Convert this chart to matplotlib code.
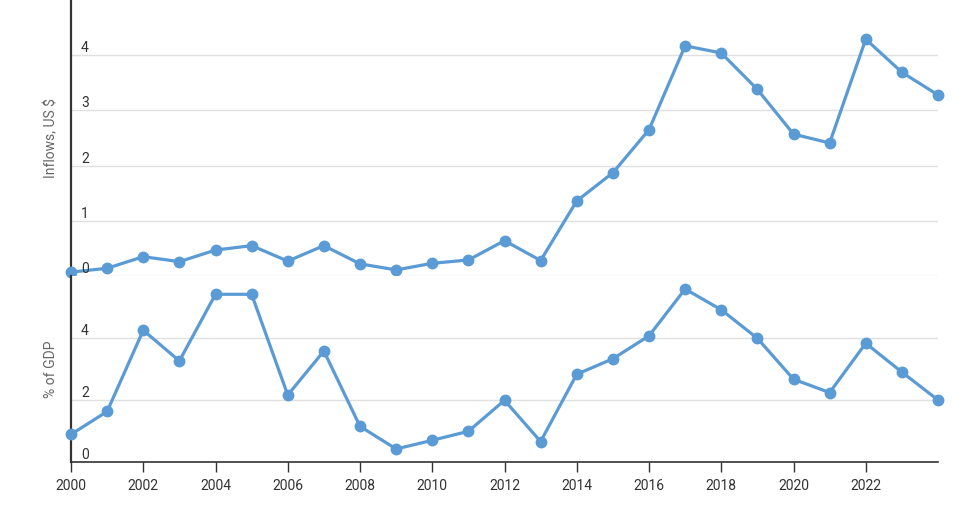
import matplotlib.pyplot as plt
import matplotlib.transforms as mtransforms

years = list(range(2000, 2025))

# inflows, US $ (billions)
inflows = [0.07, 0.14, 0.35, 0.26, 0.47, 0.55, 0.27, 0.55, 0.22, 0.11,
           0.23, 0.29, 0.64, 0.28, 1.36, 1.87, 2.65, 4.17, 4.04, 3.38,
           2.57, 2.41, 4.29, 3.69, 3.28]

# inflows as % of GDP
pct_gdp = [0.89, 1.63, 4.25, 3.26, 5.41, 5.41, 2.16, 3.58, 1.15, 0.42,
           0.70, 0.99, 1.99, 0.66, 2.83, 3.33, 4.07, 5.58, 4.91, 3.99,
           2.67, 2.24, 3.83, 2.90, 2.00]

top_ticks = [0, 1, 2, 3, 4]
bottom_ticks = [0, 2, 4]
x_ticks = list(range(2000, 2023, 2))

plt.rcParams['font.family'] = ['Roboto', 'DejaVu Sans']

blue = '#5b9bd5'
grid_c = '#e0e0e0'
dark = '#333333'

fig = plt.figure(figsize=(9.78, 5.12), dpi=100)
left = 71 / 978
width = (938 - 71) / 978
ax_top = fig.add_axes([left, 236 / 512, width, 276 / 512])
ax_bot = fig.add_axes([left, 50 / 512, width, 186 / 512])


def style(ax, ticks, ylim, show_bottom):
    ax.set_xlim(2000, 2024)
    ax.set_ylim(*ylim)
    for s in ['top', 'right']:
        ax.spines[s].set_visible(False)
    ax.spines['left'].set_color(dark)
    ax.spines['left'].set_linewidth(1.6)
    ax.spines['bottom'].set_visible(show_bottom)
    ax.spines['bottom'].set_color(dark)
    ax.spines['bottom'].set_linewidth(1.2)
    ax.set_yticks([])
    for t in ticks:
        ax.axhline(t, color=grid_c, lw=1, zorder=1)
        trans = mtransforms.blended_transform_factory(ax.transAxes, ax.transData)
        ax.text(10 / 867, t, str(t), transform=trans, ha='left', va='bottom',
                fontsize=10, color=dark, zorder=5)


style(ax_top, top_ticks, (0, 5), False)
style(ax_bot, bottom_ticks, (0, 6), True)

ax_top.plot(years, inflows, color=blue, lw=2.3, marker='o', ms=7.5,
            clip_on=False, zorder=4)
ax_bot.plot(years, pct_gdp, color=blue, lw=2.3, marker='o', ms=7.5,
            clip_on=False, zorder=4)

ax_top.set_xticks([])
ax_bot.set_xticks(x_ticks)
ax_bot.set_xticklabels([str(y) for y in x_ticks], fontsize=10, color=dark)
ax_bot.tick_params(axis='x', length=7, width=1, color=dark, pad=5)

fig.text(51.5 / 978, 1 - 138 / 512, 'Inflows, US $', rotation=90,
         ha='center', va='center', fontsize=10, color='#666666')
fig.text(51.5 / 978, 1 - 369 / 512, '% of GDP', rotation=90,
         ha='center', va='center', fontsize=10, color='#666666')

fig.savefig('out.png', dpi=100)
